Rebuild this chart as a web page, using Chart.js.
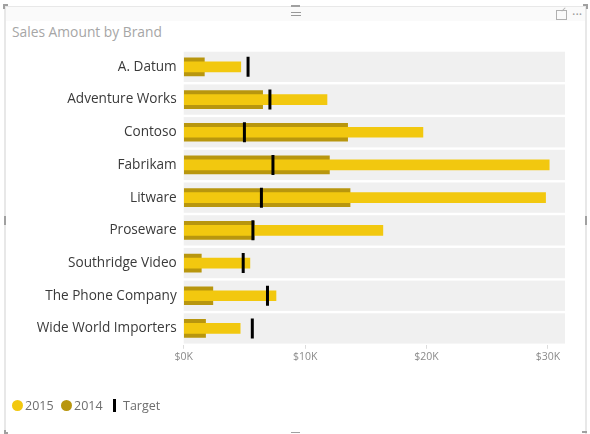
<!DOCTYPE html>
<html><head><meta charset="utf-8">
<script src="https://cdn.jsdelivr.net/npm/chart.js@4"></script>
<style>
html,body{margin:0;padding:0;background:#fff;}
body{width:590px;height:434px;position:relative;overflow:hidden;font-family:"Open Sans","Noto Sans",sans-serif;}
#c{position:absolute;left:0;top:0;}
.bl{position:absolute;background:#e8e8e8;}
.hd{position:absolute;background:#a0a0a0;}
#title{position:absolute;left:12px;top:22px;font-size:13.8px;color:#a6a6a6;white-space:nowrap;}
.lg{position:absolute;font-size:12.5px;color:#6e6e6e;white-space:nowrap;top:397px;line-height:18px;}
.dot{position:absolute;width:11px;height:11px;border-radius:50%;top:400px;}
</style></head>
<body>
<div class="bl" style="left:4px;top:6px;width:583px;height:1px;"></div>
<div style="position:absolute;left:6px;top:7px;width:579px;height:14px;background:#fafafa;"></div>
<div class="bl" style="left:4px;top:6px;width:2px;height:428px;"></div>
<div class="bl" style="left:585px;top:6px;width:2px;height:428px;"></div>
<div class="hd" style="left:3px;top:4px;width:5px;height:2px;"></div>
<div class="hd" style="left:3px;top:4px;width:2px;height:5px;"></div>
<div class="hd" style="left:583px;top:4px;width:5px;height:2px;"></div>
<div class="hd" style="left:586px;top:4px;width:2px;height:5px;"></div>
<div class="hd" style="left:4px;top:216px;width:2px;height:9px;"></div>
<div class="hd" style="left:585px;top:216px;width:2px;height:9px;"></div>
<div class="hd" style="left:291px;top:5px;width:9px;height:2px;"></div>
<div class="hd" style="left:291px;top:432px;width:9px;height:1px;"></div>
<div class="hd" style="left:582px;top:431px;width:5px;height:2px;"></div>
<div class="hd" style="left:4px;top:430px;width:2px;height:4px;"></div>
<div class="hd" style="left:4px;top:432px;width:4px;height:2px;"></div>
<div class="hd" style="left:291px;top:12px;width:10px;height:1px;background:#999"></div>
<div class="hd" style="left:291px;top:15px;width:10px;height:1px;background:#999"></div>
<div style="position:absolute;left:556px;top:10px;width:9px;height:8px;border:1px solid #b0b0b0;"></div>
<div style="position:absolute;left:561px;top:9px;width:5px;height:1px;background:#b0b0b0;transform:rotate(-45deg);"></div>
<div style="position:absolute;left:572px;top:5px;font-size:13px;color:#999;">···</div>
<div id="title">Sales Amount by Brand</div>
<canvas id="c" width="590" height="434"></canvas>
<span class="dot" style="left:12px;background:#F2C80F"></span><span class="lg" style="left:25px">2015</span>
<span class="dot" style="left:61px;background:#B8960E"></span><span class="lg" style="left:74px">2014</span>
<span style="position:absolute;left:113px;top:399px;width:3px;height:13px;background:#000"></span><span class="lg" style="left:123px">Target</span>
<script>
const categories = ["A. Datum","Adventure Works","Contoso","Fabrikam","Litware","Proseware","Southridge Video","The Phone Company","Wide World Importers"];
const sales2015 = [4700, 11800, 19700, 30100, 29800, 16400, 5450, 7600, 4650];
const sales2014 = [1700, 6500, 13500, 12000, 13700, 5800, 1450, 2400, 1800];
const targets = [5300, 7100, 5000, 7350, 6400, 5700, 4900, 6900, 5650];
const xTickValues = [0, 10000, 20000, 30000];

const bandPlugin = {
  id: 'bands',
  beforeDatasetsDraw(chart) {
    const {ctx, chartArea, scales} = chart;
    const y = scales.y;
    const pitch = (chartArea.bottom - chartArea.top) / categories.length;
    ctx.save();
    ctx.fillStyle = '#f0f0f0';
    categories.forEach((c, i) => {
      const cy = y.getPixelForValue(i);
      ctx.fillRect(chartArea.left, cy - pitch / 2 + 1.2, chartArea.right - chartArea.left, pitch - 2.4);
    });
    ctx.restore();
  }
};

new Chart(document.getElementById('c'), {
  type: 'bar',
  data: {
    labels: categories,
    datasets: [
      {label: '2015', data: sales2015, backgroundColor: '#F2C80F', barThickness: 10, grouped: false, order: 2},
      {label: '2014', data: sales2014, backgroundColor: '#B8960E', barThickness: 18, grouped: false, order: 3},
      {label: 'Target', type: 'line', indexAxis: 'y', data: targets, showLine: false,
       pointStyle: 'line', pointRotation: 90, pointRadius: 10, pointHoverRadius: 10,
       pointBorderWidth: 3, pointBorderColor: '#000', borderColor: '#000', order: 1}
    ]
  },
  options: {
    indexAxis: 'y',
    responsive: false,
    devicePixelRatio: 1,
    animation: false,
    events: [],
    layout: {padding: {top: 50.5, right: 25, left: 0, bottom: 0}},
    plugins: {legend: {display: false}, tooltip: {enabled: false}, title: {display: false}},
    scales: {
      x: {
        min: 0, max: 31400,
        afterFit(s) { s.height = 434 - 344.8; },
        afterBuildTicks(s) { s.ticks = xTickValues.map(v => ({value: v})); },
        border: {display: false},
        grid: {drawOnChartArea: false, drawTicks: true, tickLength: 4, color: '#dcdcdc'},
        ticks: {padding: 2, color: '#8a8a8a', font: {family: '"Open Sans","Noto Sans",sans-serif', size: 10.5},
          callback: v => '$' + (v / 1000) + 'K'}
      },
      y: {
        afterFit(s) { s.width = 183.7; },
        border: {display: false},
        grid: {display: false, drawTicks: false},
        ticks: {padding: 7, color: '#3a3a3a', font: {family: '"Open Sans","Noto Sans",sans-serif', size: 13.6}}
      }
    }
  },
  plugins: [bandPlugin]
});
</script>
</body></html>
